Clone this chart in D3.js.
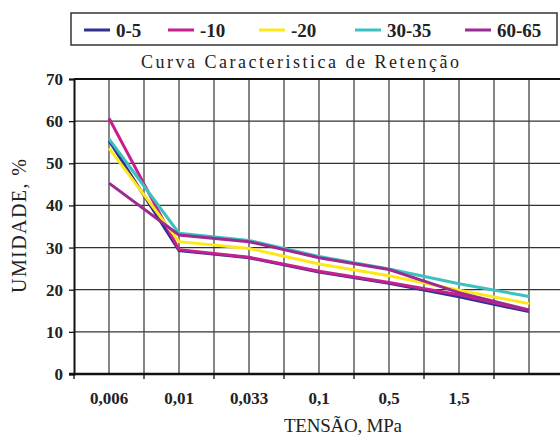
<!DOCTYPE html>
<html>
<head>
<meta charset="utf-8">
<script src="https://cdn.jsdelivr.net/npm/d3@7"></script>
<style>
  body { margin: 0; background: #fff; }
  svg { display: block; font-family: "Liberation Serif", "Times New Roman", serif; }
</style>
</head>
<body>
<div id="container"></div>
<script>
// categories on the x axis (last one has no label)
var categories = ["0,006", "0,01", "0,033", "0,1", "0,5", "1,5", ""];
var seriesNames = ["0-5", "-10", "-20", "30-35", "60-65"];
var seriesColors = ["#2e3192", "#c71f8e", "#ffe81a", "#3cc0c0", "#9c2a92"];

var s0_5   = [55.4, 29.3, 27.6, 24.2, 21.5, 18.3, 14.8];
var s_10   = [60.7, 29.5, 27.7, 24.4, 21.7, 18.8, 15.1];
var s_20   = [53.6, 31.4, 29.8, 26.1, 23.3, 19.9, 16.7];
var s30_35 = [55.8, 33.4, 31.7, 27.9, 24.9, 21.4, 18.4];
var s60_65 = [45.3, 33.0, 31.4, 27.6, 24.8, 19.3, 15.2];
var yTicks = [0, 10, 20, 30, 40, 50, 60, 70];

var allSeries = [s0_5, s_10, s_20, s30_35, s60_65];

var width = 560, height = 438;
var plotLeft = 74, plotRight = 564, plotTop = 79, plotBottom = 374;

var svg = d3.select("#container").append("svg")
    .attr("id", "chart")
    .attr("width", width)
    .attr("height", height);

var x = d3.scaleBand()
    .domain(categories.map(function(c, i) { return i; }))
    .range([plotLeft, plotRight])
    .paddingInner(0).paddingOuter(0);
var bw = x.bandwidth();
var cx = function(i) { return x(i) + bw / 2; };

var y = d3.scaleLinear()
    .domain([0, 70])
    .range([plotBottom, plotTop]);

// legend
var legend = svg.append("g");
legend.append("rect")
    .attr("x", 71).attr("y", 13)
    .attr("width", 486).attr("height", 32)
    .attr("fill", "#fff")
    .attr("stroke", "#333")
    .attr("stroke-width", 1.5);
var legendX = [84, 168, 259, 355, 465];
seriesNames.forEach(function(name, i) {
    legend.append("line")
        .attr("x1", legendX[i]).attr("x2", legendX[i] + 26)
        .attr("y1", 30).attr("y2", 30)
        .attr("stroke", seriesColors[i])
        .attr("stroke-width", 3);
    legend.append("text")
        .attr("x", legendX[i] + 32).attr("y", 36.5)
        .attr("font-size", 19)
        .attr("font-weight", "bold")
        .attr("fill", "#222")
        .text(name);
});

// title
svg.append("text")
    .attr("x", 300).attr("y", 68)
    .attr("text-anchor", "middle")
    .attr("font-size", 18)
    .attr("textLength", 318)
    .attr("lengthAdjust", "spacing")
    .attr("fill", "#222")
    .text("Curva Caracteristica de Retenção");

// horizontal gridlines
svg.append("g").selectAll("line")
    .data(yTicks.filter(function(d) { return d > 0 && d < 70; }))
    .enter().append("line")
    .attr("x1", plotLeft).attr("x2", plotRight)
    .attr("y1", function(d) { return y(d); })
    .attr("y2", function(d) { return y(d); })
    .attr("stroke", "#333")
    .attr("stroke-width", 1.3);

// vertical gridlines: category boundaries and centres
var vx = [];
categories.forEach(function(c, i) {
    if (i > 0) vx.push(x(i));
    vx.push(cx(i));
});
svg.append("g").selectAll("line")
    .data(vx)
    .enter().append("line")
    .attr("x1", function(d) { return d; })
    .attr("x2", function(d) { return d; })
    .attr("y1", y(70)).attr("y2", y(0))
    .attr("stroke", "#444")
    .attr("stroke-width", 1.3);

// top border
svg.append("line")
    .attr("x1", plotLeft).attr("x2", plotRight)
    .attr("y1", y(70)).attr("y2", y(70))
    .attr("stroke", "#111").attr("stroke-width", 2);

// y axis
var yAxis = d3.axisLeft(y).tickValues(yTicks).tickSize(5).tickPadding(6);
var gy = svg.append("g")
    .attr("transform", "translate(" + plotLeft + ",0)")
    .call(yAxis);
gy.attr("font-family", null).attr("font-size", null);
gy.select(".domain").attr("stroke", "#111").attr("stroke-width", 2);
gy.selectAll(".tick line").attr("stroke", "#111").attr("stroke-width", 1.3);
gy.selectAll(".tick text")
    .attr("font-size", 17)
    .attr("font-weight", "bold")
    .attr("fill", "#222");

// x axis: labels at category centres, ticks at boundaries
var xAxis = d3.axisBottom(x).tickSize(0).tickPadding(0)
    .tickFormat(function(i) { return categories[i]; });
var gx = svg.append("g")
    .attr("transform", "translate(0," + plotBottom + ")")
    .call(xAxis);
gx.attr("font-family", null).attr("font-size", null);
gx.select(".domain").remove();
gx.selectAll(".tick text")
    .attr("y", 30)
    .attr("dy", 0)
    .attr("font-size", 17)
    .attr("font-weight", "bold")
    .attr("fill", "#222");
svg.append("g").selectAll("line")
    .data(categories.map(function(c, i) { return x(i); }).concat([plotRight]))
    .enter().append("line")
    .attr("x1", function(d) { return d; })
    .attr("x2", function(d) { return d; })
    .attr("y1", plotBottom).attr("y2", plotBottom + 5)
    .attr("stroke", "#111").attr("stroke-width", 1.3);
svg.append("line")
    .attr("x1", plotLeft - 5).attr("x2", plotRight)
    .attr("y1", plotBottom).attr("y2", plotBottom)
    .attr("stroke", "#111").attr("stroke-width", 2.5);

// axis titles
svg.append("text")
    .attr("x", 343).attr("y", 432)
    .attr("text-anchor", "middle")
    .attr("font-size", 19)
    .attr("textLength", 118)
    .attr("lengthAdjust", "spacing")
    .attr("fill", "#222")
    .text("TENSÃO, MPa");
svg.append("text")
    .attr("transform", "translate(26,226) rotate(-90)")
    .attr("text-anchor", "middle")
    .attr("font-size", 20)
    .attr("textLength", 134)
    .attr("lengthAdjust", "spacing")
    .attr("fill", "#222")
    .text("UMIDADE, %");

// series lines
var line = d3.line()
    .x(function(d, i) { return cx(i); })
    .y(function(d) { return y(d); });

svg.append("g").selectAll("path")
    .data(allSeries)
    .enter().append("path")
    .attr("d", line)
    .attr("fill", "none")
    .attr("stroke", function(d, i) { return seriesColors[i]; })
    .attr("stroke-width", 3)
    .attr("stroke-linejoin", "miter");
</script>
</body>
</html>
